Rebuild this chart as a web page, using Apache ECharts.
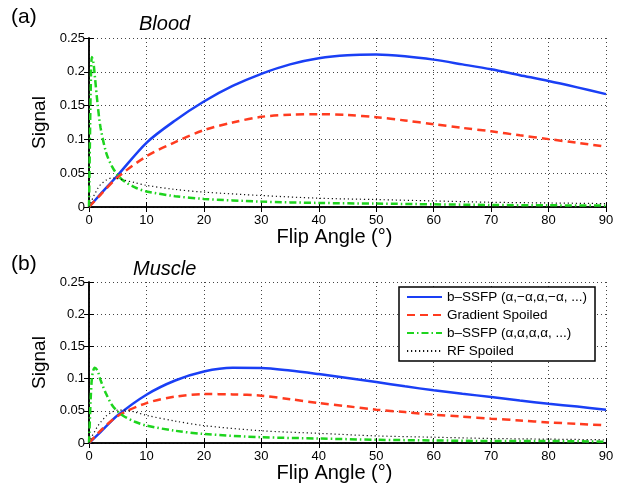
<!DOCTYPE html>
<html>
<head>
<meta charset="utf-8">
<script src="https://cdn.jsdelivr.net/npm/echarts@6/dist/echarts.min.js"></script>
<style>
html,body{margin:0;padding:0;background:#fff;}
#chart{width:620px;height:489px;}
</style>
</head>
<body>
<div id="chart"></div>
<script>
// ---- data ----
const seriesNames = ['b–SSFP (α,−α,α,−α, ...)', 'Gradient Spoiled', 'b–SSFP (α,α,α,α, ...)', 'RF Spoiled'];
const panelLabels = ['(a)', '(b)'];
const panelTitles = ['Blood', 'Muscle'];
const xTicks = [0, 10, 20, 30, 40, 50, 60, 70, 80, 90];
const yTicks = [0, 0.05, 0.1, 0.15, 0.2, 0.25];

const angleMain = [0, 2, 5, 10, 15, 20, 25, 30, 35, 40, 45, 50, 55, 60, 65, 70, 75, 80, 85, 90];
const angleFine = [0, 0.15, 0.3, 0.5, 0.75, 1, 1.5, 2, 3, 4, 5, 6, 8, 10, 15, 20, 30, 40, 50, 60, 70, 80, 90];

// Blood
const bloodBSSFP = [0, 0.019, 0.047, 0.095, 0.128, 0.156, 0.179, 0.197, 0.211, 0.220, 0.2245, 0.2255, 0.223, 0.218, 0.211, 0.2037, 0.195, 0.1865, 0.177, 0.167];
const bloodGRE   = [0, 0.018, 0.044, 0.075, 0.096, 0.1137, 0.125, 0.1334, 0.1365, 0.1373, 0.136, 0.1329, 0.128, 0.1225, 0.117, 0.112, 0.106, 0.1004, 0.095, 0.0891];
const bloodAlt   = [0, 0.09, 0.175, 0.222, 0.215, 0.195, 0.152, 0.118, 0.08, 0.06, 0.047, 0.039, 0.029, 0.023, 0.016, 0.012, 0.008, 0.006, 0.005, 0.004, 0.003, 0.0025, 0.002];
const bloodRF    = [0, 0.003, 0.006, 0.01, 0.015, 0.019, 0.027, 0.033, 0.04, 0.043, 0.042, 0.04, 0.036, 0.032, 0.026, 0.022, 0.017, 0.013, 0.011, 0.009, 0.007, 0.006, 0.005];

// Muscle
const muscleBSSFP = [0, 0.017, 0.043, 0.075, 0.097, 0.111, 0.1168, 0.1165, 0.1125, 0.107, 0.101, 0.0947, 0.088, 0.0818, 0.0765, 0.0714, 0.066, 0.061, 0.0565, 0.0518];
const muscleGRE   = [0, 0.019, 0.042, 0.062, 0.072, 0.076, 0.0755, 0.0735, 0.068, 0.062, 0.057, 0.0518, 0.048, 0.044, 0.041, 0.0378, 0.035, 0.032, 0.0297, 0.0274];
const muscleAlt   = [0, 0.035, 0.07, 0.1, 0.113, 0.117, 0.112, 0.098, 0.076, 0.059, 0.049, 0.042, 0.033, 0.027, 0.019, 0.014, 0.009, 0.007, 0.005, 0.004, 0.003, 0.003, 0.002];
const muscleRF    = [0, 0.003, 0.006, 0.01, 0.014, 0.018, 0.026, 0.032, 0.042, 0.048, 0.051, 0.051, 0.048, 0.043, 0.034, 0.027, 0.019, 0.015, 0.011, 0.009, 0.007, 0.006, 0.005];

// ---- build ----
const pairs = (xs, ys) => xs.map((x, i) => [x, ys[i]]);
const FONT = '"Liberation Sans", Arial, Helvetica, sans-serif';
const colors = ['#1a3ff5', '#ff3b1f', '#1ed41e', '#111111'];
const lineTypes = ['solid', [8, 5], [7, 3, 1.5, 3], [1.2, 2.8]];
const widths = [2.5, 2.5, 2.5, 1.2];

const grids = [
  {left: 89, top: 38, right: 14, height: 169},
  {left: 89, top: 282, right: 14, height: 161}
];

const xAxes = [], yAxes = [], series = [];
const tickStyle = {show: true, inside: true, length: 5, lineStyle: {color: '#000', width: 1}};
const axisLine = {show: true, lineStyle: {color: '#000', width: 1.5}};
const gridLine = {show: true, lineStyle: {color: '#444', width: 1, type: [1, 3]}};

grids.forEach((g, gi) => {
  xAxes.push({
    type: 'value', gridIndex: gi, min: xTicks[0], max: xTicks[xTicks.length - 1],
    interval: xTicks[1] - xTicks[0], position: 'bottom',
    axisLine, axisTick: tickStyle, splitLine: gridLine,
    axisLabel: {color: '#000', fontSize: 13, fontFamily: FONT, margin: 7},
    name: 'Flip Angle (°)', nameLocation: 'middle', nameGap: 19,
    nameTextStyle: {color: '#000', fontSize: 20, fontFamily: FONT, padding: [0, 26, 0, 0]}
  });
  xAxes.push({
    type: 'value', gridIndex: gi, min: xTicks[0], max: xTicks[xTicks.length - 1],
    interval: xTicks[1] - xTicks[0], position: 'top',
    axisLine, axisTick: tickStyle, splitLine: {show: false}, axisLabel: {show: false}
  });
  yAxes.push({
    type: 'value', gridIndex: gi, min: yTicks[0], max: yTicks[yTicks.length - 1],
    interval: yTicks[1] - yTicks[0], position: 'left',
    axisLine, axisTick: tickStyle, splitLine: gridLine,
    axisLabel: {color: '#000', fontSize: 13, fontFamily: FONT, margin: 4},
    name: 'Signal', nameLocation: 'middle', nameGap: 36,
    nameTextStyle: {color: '#000', fontSize: 19, fontFamily: FONT}
  });
  yAxes.push({
    type: 'value', gridIndex: gi, min: yTicks[0], max: yTicks[yTicks.length - 1],
    interval: yTicks[1] - yTicks[0], position: 'right',
    axisLine, axisTick: tickStyle, splitLine: {show: false}, axisLabel: {show: false}
  });
});

const panelData = [
  [pairs(angleMain, bloodBSSFP), pairs(angleMain, bloodGRE), pairs(angleFine, bloodAlt), pairs(angleFine, bloodRF)],
  [pairs(angleMain, muscleBSSFP), pairs(angleMain, muscleGRE), pairs(angleFine, muscleAlt), pairs(angleFine, muscleRF)]
];

panelData.forEach((sets, gi) => {
  sets.forEach((d, si) => {
    series.push({
      type: 'line', name: seriesNames[si], data: d,
      xAxisIndex: gi * 2, yAxisIndex: gi * 2,
      symbol: 'none', showSymbol: false, smooth: 0.3,
      lineStyle: {color: colors[si], width: widths[si], type: lineTypes[si]},
      itemStyle: {color: colors[si], opacity: 0},
      z: 2 + si, silent: true, animation: false
    });
  });
});

const titles = [
  {text: panelLabels[0], left: 11, top: 7, textStyle: {fontSize: 21, fontWeight: 'normal', fontFamily: FONT, color: '#000'}, padding: 0},
  {text: panelTitles[0], left: 139, top: 14, textStyle: {fontSize: 20, fontStyle: 'italic', fontWeight: 'normal', fontFamily: FONT, color: '#000'}, padding: 0},
  {text: panelLabels[1], left: 11, top: 254, textStyle: {fontSize: 21, fontWeight: 'normal', fontFamily: FONT, color: '#000'}, padding: 0},
  {text: panelTitles[1], left: 133, top: 259, textStyle: {fontSize: 20, fontStyle: 'italic', fontWeight: 'normal', fontFamily: FONT, color: '#000'}, padding: 0}
];

const chart = echarts.init(document.getElementById('chart'), null, {renderer: 'canvas'});
chart.setOption({
  animation: false,
  backgroundColor: '#fff',
  title: titles,
  grid: grids,
  xAxis: xAxes,
  yAxis: yAxes,
  legend: {
    data: seriesNames, orient: 'vertical', left: 399, top: 287,
    padding: [3, 8, 3, 7], itemWidth: 35, itemHeight: 14, itemGap: 4,
    backgroundColor: '#fff', borderColor: '#000', borderWidth: 1.5, borderRadius: 0,
    selectedMode: false,
    itemStyle: {opacity: 0},
    textStyle: {color: '#000', fontSize: 13.5, fontFamily: FONT}
  },
  series
});
</script>
</body>
</html>
